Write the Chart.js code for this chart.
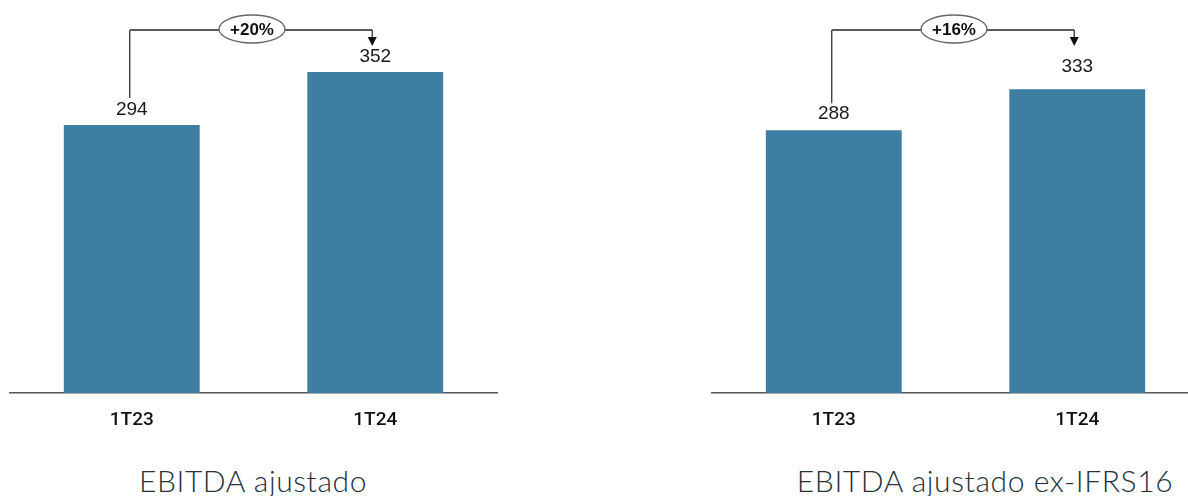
<!DOCTYPE html>
<html>
<head>
<meta charset="utf-8">
<script src="https://cdn.jsdelivr.net/npm/chart.js@4"></script>
<style>
  html, body { margin: 0; padding: 0; background: #fff; overflow: hidden; }
  body { width: 1188px; height: 496px; position: relative; }
  canvas { position: absolute; top: 0; }
  #c1 { left: 0; }
  #c2 { left: 702px; }
  .title {
    position: absolute; top: 462px; width: 500px; text-align: center;
    font-family: Lato, "Open Sans", sans-serif; font-weight: 300; font-size: 30px;
    letter-spacing: 0.6px; color: #24303a; white-space: nowrap;
  }
  #t1 { left: 3px; }
  #t2 { left: 735px; }
</style>
</head>
<body>
<canvas id="c1" width="500" height="440"></canvas>
<canvas id="c2" width="500" height="440"></canvas>
<div class="title" id="t1"></div>
<div class="title" id="t2"></div>
<script>
// ---- data ----
const quarters = ["1T23", "1T24"];
const ebitdaAdj = [294, 352];
const ebitdaExIfrs = [288, 333];
const growth = ["+20%", "+16%"];
const titles = ["EBITDA ajustado", "EBITDA ajustado ex-IFRS16"];
const yMax = 420;

const barColor = "#3d7ea2";

// value labels above bars
const valueLabels = {
  id: "valueLabels",
  afterDatasetsDraw(chart, args, opts) {
    const ctx = chart.ctx;
    const meta = chart.getDatasetMeta(0);
    const data = chart.data.datasets[0].data;
    ctx.save();
    ctx.font = "19px 'Liberation Sans', Arial, sans-serif";
    ctx.fillStyle = "#1a1a1a";
    ctx.textAlign = "center";
    ctx.textBaseline = "middle";
    meta.data.forEach((bar, i) => {
      ctx.fillText(String(data[i]), bar.x, bar.y - opts.offsets[i]);
    });
    ctx.restore();
  }
};

// growth bracket with ellipse badge
const growthBracket = {
  id: "growthBracket",
  afterDraw(chart, args, opts) {
    const ctx = chart.ctx;
    const bars = chart.getDatasetMeta(0).data;
    const y = opts.y;
    const x1 = bars[0].x - 2;
    const x2 = bars[1].x - 3;
    const mid = (x1 + x2) / 2;
    ctx.save();
    // left vertical
    ctx.strokeStyle = "#222";
    ctx.lineWidth = 1.2;
    ctx.beginPath();
    ctx.moveTo(x1, y);
    ctx.lineTo(x1, bars[0].y - opts.stopAbove);
    ctx.stroke();
    // horizontal
    ctx.strokeStyle = "#5a5a5a";
    ctx.lineWidth = 2;
    ctx.beginPath();
    ctx.moveTo(x1, y);
    ctx.lineTo(x2, y);
    ctx.stroke();
    // arrow down
    ctx.strokeStyle = "#222";
    ctx.lineWidth = 1.2;
    ctx.beginPath();
    ctx.moveTo(x2, y);
    ctx.lineTo(x2, y + 8);
    ctx.stroke();
    ctx.fillStyle = "#111";
    ctx.beginPath();
    ctx.moveTo(x2 - 4.5, y + 7);
    ctx.lineTo(x2 + 4.5, y + 7);
    ctx.lineTo(x2, y + 16);
    ctx.closePath();
    ctx.fill();
    // ellipse
    ctx.beginPath();
    ctx.ellipse(mid + 1, y - 1, 33, 14, 0, 0, Math.PI * 2);
    ctx.fillStyle = "#fff";
    ctx.fill();
    ctx.strokeStyle = "#666";
    ctx.lineWidth = 1.3;
    ctx.stroke();
    ctx.fillStyle = "#111";
    ctx.font = "bold 17px 'Liberation Sans', Arial, sans-serif";
    ctx.textAlign = "center";
    ctx.textBaseline = "middle";
    ctx.fillText(opts.text, mid + 1, y);
    ctx.restore();
  }
};

function makeChart(id, values, badge, offsets) {
  return new Chart(document.getElementById(id), {
    type: "bar",
    data: {
      labels: quarters,
      datasets: [{
        data: values,
        backgroundColor: barColor,
        barPercentage: 0.558,
        categoryPercentage: 1
      }]
    },
    options: {
      responsive: false,
      animation: false,
      devicePixelRatio: 1,
      layout: { padding: { left: 10, right: 3, top: 10, bottom: 0 } },
      plugins: {
        legend: { display: false },
        tooltip: { enabled: false },
        valueLabels: { offsets: offsets },
        growthBracket: { text: badge, y: 30, stopAbove: 27 }
      },
      scales: {
        x: {
          grid: { display: false, drawTicks: false },
          border: { display: true, color: "#555", width: 1.5 },
          ticks: {
            color: "#111",
            padding: 16,
            font: { family: "Roboto, 'Liberation Sans', Arial, sans-serif", size: 19, weight: "500" }
          },
          afterFit: (s) => { s.height = 47; }
        },
        y: {
          display: false,
          min: 0,
          max: yMax
        }
      }
    },
    plugins: [valueLabels, growthBracket]
  });
}

makeChart("c1", ebitdaAdj, growth[0], [15, 15]);
makeChart("c2", ebitdaExIfrs, growth[1], [17, 23]);

document.getElementById("t1").textContent = titles[0];
document.getElementById("t2").textContent = titles[1];
</script>
</body>
</html>
